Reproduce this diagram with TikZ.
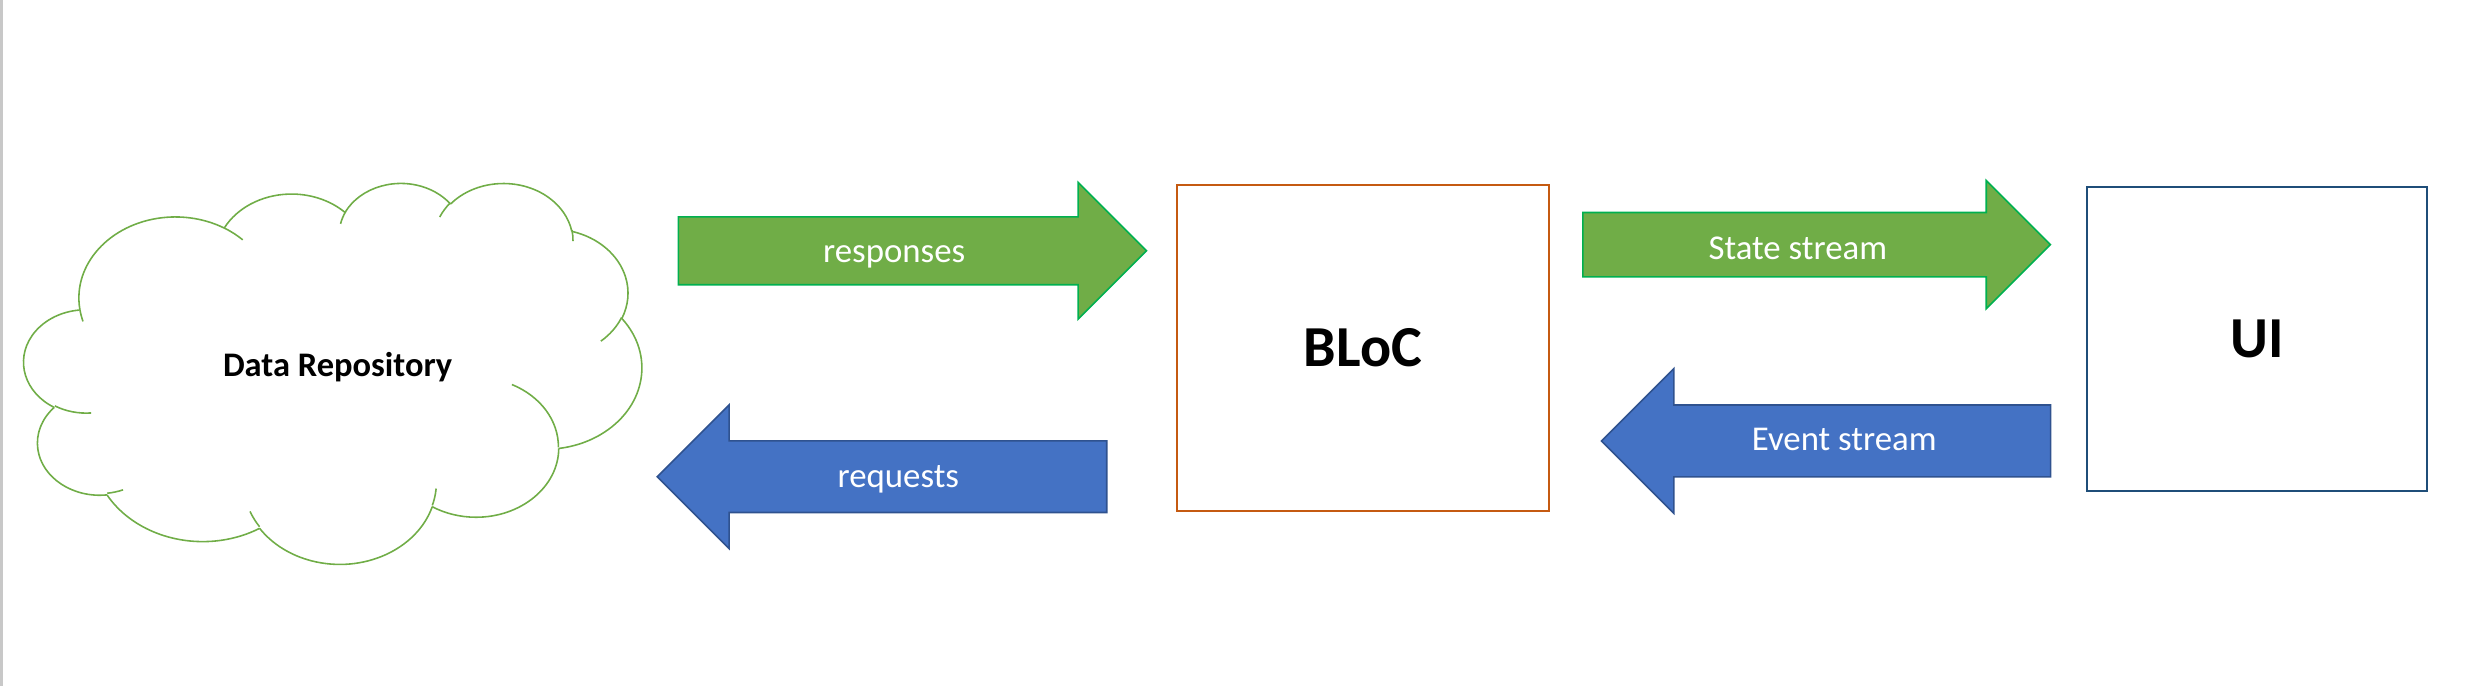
\documentclass[tikz,border=0pt]{standalone}
\usepackage{fontspec}
\setmainfont{Carlito}
\usepackage{tikz}
\usetikzlibrary{shapes.arrows}

\definecolor{cloudgreen}{HTML}{70AD47}
\definecolor{flowgreen}{HTML}{70AD47}
\definecolor{flowgreenline}{HTML}{00B050}
\definecolor{flowblue}{HTML}{4472C4}
\definecolor{flowblueline}{HTML}{2F528F}
\definecolor{blocline}{HTML}{C55A11}
\definecolor{uiline}{HTML}{1F4E79}
\definecolor{pagerule}{HTML}{C8C8C8}

\begin{document}
\begin{tikzpicture}[x=0.01cm, y=-0.01cm,
    cloudline/.style={draw=cloudgreen, line width=0.45pt},
    flow/.style={single arrow, single arrow tip angle=90, inner xsep=0pt, line width=0.45pt},
    toright/.style={flow, fill=flowgreen, draw=flowgreenline},
    toleft/.style={flow, fill=flowblue, draw=flowblueline, shape border rotate=180},
    flowtext/.style={text=white, font=\fontsize{9.9}{12}\selectfont, anchor=base, inner sep=0pt},
    block/.style={draw, line width=0.57pt, inner sep=0pt, font=\fontsize{16.5}{20}\selectfont\bfseries}]
    \useasboundingbox (0,0) rectangle (2472,686);
    \fill[pagerule] (0,0) rectangle (3,686);

    % cloud, drawn arc by arc
    \begin{scope}[shift={(0.240cm,-1.821cm)}, x=0.14289cm, y=-0.0881cm]
        \coordinate (rim) at (3.900,14.370);
        \foreach \rx/\ry/\sa/\sw in {6.753/9.190/-190.4875/123.7805, 5.333/7.267/-144.1024/89.9452,
                4.365/5.945/-145.8079/99.7230, 4.857/6.595/-130.9861/117.2417,
                5.333/7.273/-78.7089/109.0269, 6.775/9.220/-46.2673/130.2690,
                5.785/7.867/0.6250/114.0333, 6.752/9.215/22.4516/115.1726,
                7.720/10.543/66.2426/75.7110, 4.360/5.918/-274.9421/146.7356,
                4.345/5.945/-246.8285/152.5189}{
            \pgfmathsetmacro\angA{atan2(\rx*sin(\sa),\ry*cos(\sa))}
            \pgfmathsetmacro\angB{atan2(\rx*sin(\sa+\sw),\ry*cos(\sa+\sw))}
            \pgfmathsetmacro\angD{\angB-\angA+360*(\angB<\angA)}
            \draw[cloudline] (rim) arc[x radius=\rx, y radius=\ry, start angle=\angA, delta angle=\angD] coordinate (rim);
        }
        \foreach \cx/\cy/\rx/\ry/\sa/\sw in {4.693/26.177/4.345/5.945/86.7420/26.4295,
                6.928/34.899/4.360/5.918/73.6105/11.4475, 16.478/39.090/6.752/9.215/137.6242/14.0811,
                28.827/34.751/6.752/9.215/6.4533/15.9984, 34.129/22.954/5.785/7.867/-70.2924/70.9174,
                41.798/15.354/5.333/7.273/30.3180/27.7515, 38.324/5.426/4.857/6.595/-13.7443/14.8589,
                29.078/3.952/4.857/6.595/-149.1815/18.1954, 22.141/4.720/4.365/5.945/-163.4943/17.6864,
                14.000/5.192/6.753/9.190/-66.7070/12.3194, 4.127/15.789/6.753/9.190/157.6544/11.8582}{
            \pgfmathsetmacro\angA{atan2(\rx*sin(\sa),\ry*cos(\sa))}
            \pgfmathsetmacro\angB{atan2(\rx*sin(\sa+\sw),\ry*cos(\sa+\sw))}
            \pgfmathsetmacro\angD{\angB-\angA+360*(\angB<\angA)}
            \draw[cloudline] (\cx,\cy) arc[x radius=\rx, y radius=\ry, start angle=\angA, delta angle=\angD];
        }
    \end{scope}
    \node[font=\fontsize{9.8}{12}\selectfont\bfseries, anchor=base, inner sep=0pt] (repo) at (337.6,376.7) {Data Repository};

    \node[block, draw=blocline, minimum width=3.723cm, minimum height=3.257cm] (bloc) at (1362.85,347.85) {BLoC};
    \node[block, draw=uiline, minimum width=3.403cm, minimum height=3.043cm] (ui) at (2256.85,338.85) {UI};

    \node[toright, minimum height=4.679cm, inner ysep=0.3315cm, single arrow head extend=0.3435cm, anchor=tail] (responses) at (677.5,250.8) {};
    \node[toright, minimum height=4.672cm, inner ysep=0.3135cm, single arrow head extend=0.3195cm, anchor=tail] (state) at (1582.1,244.7) {};
    \node[toleft, minimum height=4.493cm, inner ysep=0.35cm, single arrow head extend=0.36cm, anchor=tip] (requests) at (656.1,476.7) {};
    \node[toleft, minimum height=4.489cm, inner ysep=0.3515cm, single arrow head extend=0.3635cm, anchor=tip] (event) at (1600.4,441) {};

    \node[flowtext] (responseslabel) at (894.2,262.3) {responses};
    \node[flowtext] (statelabel) at (1797.8,259.3) {State stream};
    \node[flowtext] (requestslabel) at (898.3,487.3) {requests};
    \node[flowtext] (eventlabel) at (1844.2,451) {Event stream};
\end{tikzpicture}
\end{document}
